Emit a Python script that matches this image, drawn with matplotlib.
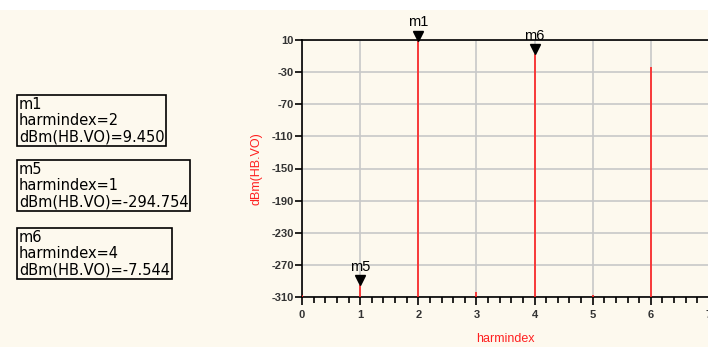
import matplotlib
matplotlib.use('Agg')
import matplotlib.pyplot as plt
from matplotlib.ticker import MultipleLocator
from matplotlib.transforms import offset_copy
from matplotlib.patches import Rectangle

plt.rcParams['font.family'] = ['Liberation Sans', 'DejaVu Sans']
plt.rcParams['axes.unicode_minus'] = False

# ==================== 数据 ====================
harmindex = [0, 1, 2, 3, 4, 5, 6, 7]
dbm_vo = [-307, -294.754, 9.450, -304, -7.544, -308, -24, -306]

marker_names = ['m1', 'm5', 'm6']
marker_idx = [2, 1, 4]
marker_vals = [9.450, -294.754, -7.544]

y_ticks = [10, -30, -70, -110, -150, -190, -230, -270, -310]

BG = '#FDF9EE'

fig = plt.figure(figsize=(7.08, 3.47), dpi=100)
fig.patch.set_facecolor(BG)
# 顶部白条
fig.patches.append(Rectangle((0, 1 - 10 / 347), 1, 10 / 347, transform=fig.transFigure,
                             facecolor='white', edgecolor='none', zorder=0))

ax = fig.add_axes([302 / 708, 50 / 347, 407 / 708, 257 / 347])
ax.set_facecolor(BG)

ax.set_xlim(0, 7)
ax.set_ylim(-310, 10)
ax.set_yticks(y_ticks)
ax.xaxis.set_major_locator(MultipleLocator(1))
ax.xaxis.set_minor_locator(MultipleLocator(0.2))

ax.grid(True, which='major', color='#c8c8c8', linewidth=1.2)
ax.set_axisbelow(True)

for s in ['left', 'bottom', 'top']:
    ax.spines[s].set_color('black')
    ax.spines[s].set_linewidth(1.2)
ax.spines['right'].set_visible(False)

ax.tick_params(axis='y', which='major', length=5, width=1.2, labelsize=8, pad=1)
ax.tick_params(axis='x', which='major', length=6, width=1.2, labelsize=8, pad=3)
ax.tick_params(axis='x', which='minor', length=4, width=1.2)
for lab in ax.get_yticklabels() + ax.get_xticklabels():
    lab.set_fontweight('bold')
    lab.set_color('#333333')

# 谐波线
ax.vlines(harmindex, -330, dbm_vo, colors='#ff2020', linewidth=1.2, zorder=3)

# 标记
mk_trans = offset_copy(ax.transData, fig=fig, y=3.5, units='points')
txt_trans = offset_copy(ax.transData, fig=fig, y=8, units='points')
for name, xi, yv in zip(marker_names, marker_idx, marker_vals):
    ax.plot(xi, yv, marker='v', color='black', markersize=7, transform=mk_trans,
            clip_on=False, zorder=5)
    ax.text(xi, yv, name, transform=txt_trans, ha='center', va='bottom',
            fontsize=10.5, color='black', clip_on=False, zorder=5)

ax.set_ylabel('dBm(HB.VO)', color='#ff2020', fontsize=9, labelpad=6)
ax.set_xlabel('harmindex', color='#ff2020', fontsize=9, labelpad=10)

# 左侧标记说明框
box_y = [95, 160, 228]
for name, xi, yv, by in zip(marker_names, marker_idx, marker_vals, box_y):
    txt = f"{name}\nharmindex={xi}\ndBm(HB.VO)={yv:.3f}"
    fig.text(19 / 708, 1 - (by + 2) / 347, txt, ha='left', va='top', fontsize=10.5,
             family='DejaVu Sans', linespacing=1.1,
             bbox=dict(boxstyle='square,pad=0.12', facecolor=BG, edgecolor='black',
                       linewidth=1.2))

fig.savefig('out.png', dpi=100, facecolor=fig.get_facecolor())
